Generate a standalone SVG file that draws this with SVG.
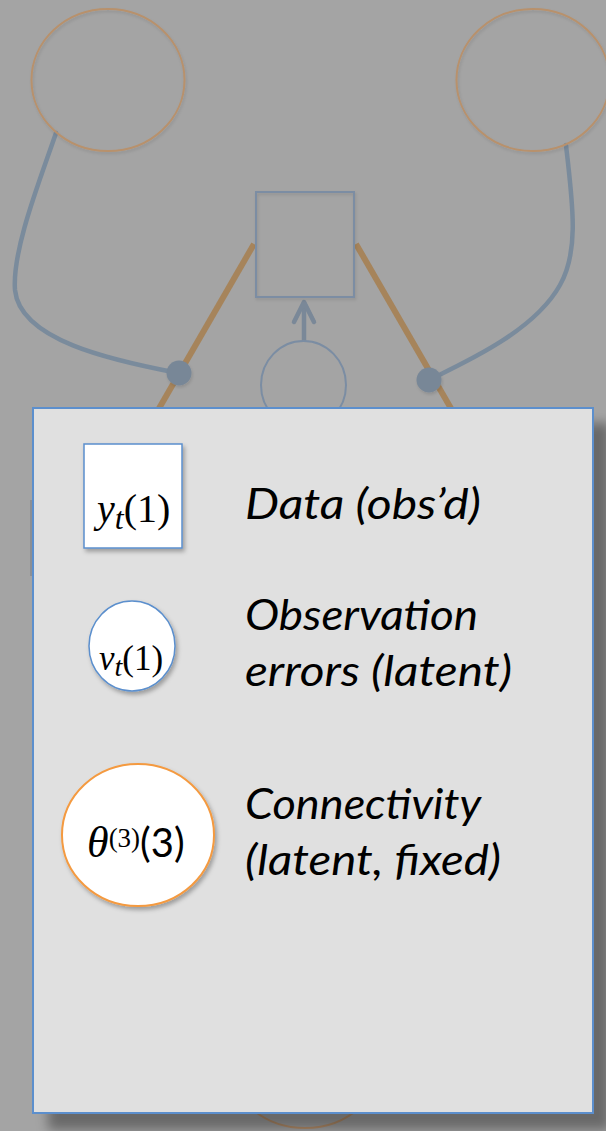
<svg xmlns="http://www.w3.org/2000/svg" width="606" height="1131" viewBox="0 0 606 1131">
  <defs>
    <filter id="panelShadow" x="-10%" y="-10%" width="130%" height="130%">
      <feDropShadow dx="16" dy="16" stdDeviation="6" flood-color="#000" flood-opacity="0.36"/>
    </filter>
    <filter id="nodeShadow" x="-20%" y="-20%" width="150%" height="150%">
      <feDropShadow dx="2" dy="3" stdDeviation="2" flood-color="#000" flood-opacity="0.3"/>
    </filter>
    <filter id="dimShadow" x="-20%" y="-20%" width="150%" height="150%">
      <feDropShadow dx="1" dy="2" stdDeviation="1.5" flood-color="#000" flood-opacity="0.12"/>
    </filter>
  </defs>
  <style>
    .bg { fill: #a4a4a4; }
    .dimCircle { fill: none; stroke: #b8916c; stroke-width: 2; }
    .dimBlue { fill: none; stroke: #7b8da3; stroke-width: 2; }
    .orangeEdge { fill: none; stroke: #a6845b; stroke-width: 6; }
    .blueEdge { fill: none; stroke: #7a8b9c; stroke-width: 4.5; stroke-linecap: round; }
    .dot { fill: #788797; }
    .panel { fill: #e0e0e0; stroke: #5b8fcd; stroke-width: 2; }
    .blueNode { fill: #ffffff; stroke: #5b8fcd; stroke-width: 1.5; }
    .orangeNode { fill: #ffffff; stroke: #f49a40; stroke-width: 2; }
    .math { font-family: "Liberation Serif", "Times New Roman", serif; fill: #000; }
    .label { font-family: Lato, "Liberation Sans", sans-serif; font-style: italic; font-size: 42px; fill: #000; }
  </style>

  <rect class="bg" x="0" y="0" width="606" height="1131"/>

  <!-- dimmed background diagram -->
  <g id="connectors">
    <line class="orangeEdge" x1="254" y1="244" x2="150" y2="424"/>
    <line class="orangeEdge" x1="356" y1="244" x2="460" y2="424"/>
    <path class="blueEdge" d="M56,133 C40,180 12,250 15,290 C20,340 110,360 178,373"/>
    <path class="blueEdge" d="M566,145 C572,200 580,250 560,285 C535,330 470,360 429,380"/>
    <g id="arrow-v-to-y">
      <line x1="304" y1="341" x2="304" y2="303" stroke="#7a8898" stroke-width="4.5"/>
      <polyline points="294,322 304,302 314,322" fill="none" stroke="#7a8898" stroke-width="4.5" stroke-linecap="round" stroke-linejoin="round"/>
    </g>
  </g>
  <g id="node-theta-left" filter="url(#dimShadow)">
    <ellipse class="dimCircle" cx="108" cy="80" rx="76.5" ry="71"/>
  </g>
  <g id="node-theta-right" filter="url(#dimShadow)">
    <ellipse class="dimCircle" cx="533" cy="80" rx="76.5" ry="71"/>
  </g>
  <g id="node-y-center" filter="url(#dimShadow)">
    <rect class="dimBlue" x="256" y="192" width="98" height="105"/>
  </g>
  <g id="node-v-center">
    <ellipse class="dimBlue" cx="303.5" cy="385" rx="42.5" ry="44"/>
  </g>
  <g id="junction-left" filter="url(#dimShadow)">
    <circle class="dot" cx="179" cy="373" r="12.5"/>
  </g>
  <g id="junction-right" filter="url(#dimShadow)">
    <circle class="dot" cx="429" cy="380" r="12.5"/>
  </g>
  <g id="node-hidden-left">
    <line x1="31" y1="500" x2="31" y2="576" stroke="#8c8f94" stroke-width="2"/>
  </g>
  <g id="node-theta-bottom">
    <ellipse class="dimCircle" cx="305" cy="1057" rx="78" ry="71"/>
  </g>

  <!-- legend panel -->
  <g id="legend-panel">
    <rect class="panel" x="33" y="408" width="560" height="705" filter="url(#panelShadow)"/>
  </g>

  <g id="legend-data">
    <rect class="blueNode" x="84" y="444" width="98" height="104" filter="url(#nodeShadow)"/>
    <text class="math" x="97" y="522" font-size="40"><tspan font-style="italic">y</tspan><tspan font-style="italic" font-size="32" dy="7">t</tspan><tspan dy="-7">(1)</tspan></text>
    <text class="label" x="245" y="519" textLength="236" lengthAdjust="spacingAndGlyphs">Data (obs’d)</text>
  </g>

  <g id="legend-errors">
    <ellipse class="blueNode" cx="132" cy="646" rx="43" ry="45" filter="url(#nodeShadow)"/>
    <text class="math" x="99" y="670" font-size="35"><tspan font-style="italic">v</tspan><tspan font-style="italic" font-size="28" dy="6">t</tspan><tspan dy="-6">(1)</tspan></text>
    <text class="label" x="245" y="630" textLength="233" lengthAdjust="spacingAndGlyphs">Observation</text>
    <text class="label" x="245" y="686" textLength="267" lengthAdjust="spacingAndGlyphs">errors (latent)</text>
  </g>

  <g id="legend-connectivity">
    <ellipse class="orangeNode" cx="138" cy="835" rx="76" ry="71" filter="url(#nodeShadow)"/>
    <text x="87" y="857"><tspan class="math" font-style="italic" font-size="44">θ</tspan><tspan class="math" font-size="27" dy="-10">(3)</tspan><tspan font-family="Lato, 'Liberation Sans', sans-serif" font-size="40" dy="10">(3)</tspan></text>
    <text class="label" x="245" y="819" textLength="236" lengthAdjust="spacingAndGlyphs">Connectivity</text>
    <text class="label" x="245" y="875" textLength="256" lengthAdjust="spacingAndGlyphs">(latent, fixed)</text>
  </g>
</svg>
